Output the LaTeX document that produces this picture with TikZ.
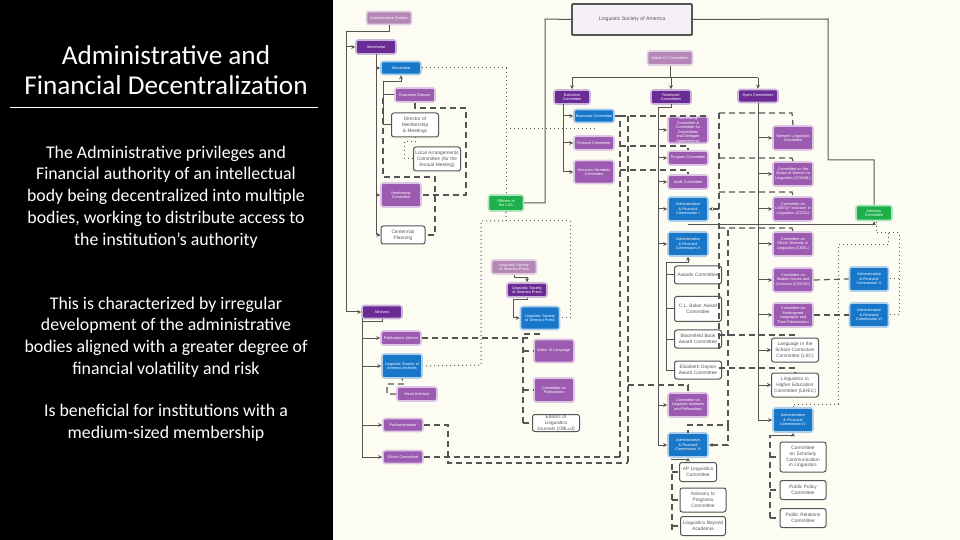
\documentclass[tikz,border=0pt]{standalone}
\usepackage{fontspec}
\setmainfont{Carlito}
\newfontfamily\nf{Liberation Sans}
\usetikzlibrary{arrows.meta}
\definecolor{bg}{HTML}{FDFCF3}
\definecolor{darkp}{HTML}{6A2B95}
\definecolor{midp}{HTML}{9C5BB0}
\definecolor{mauve}{HTML}{B587B7}
\definecolor{bluec}{HTML}{1877C9}
\definecolor{greenc}{HTML}{1DB04A}
\definecolor{ln}{HTML}{555555}
\hyphenpenalty=10000
\exhyphenpenalty=10000
\tikzset{
 base/.style={rounded corners=1.2pt,align=center,inner sep=0pt,font=\nf\fontsize{1.9}{2.3}\selectfont,line width=0.8pt},
 dp/.style={base,fill=darkp,draw=darkp!35,text=white},
 mp/.style={base,fill=midp,draw=midp!35,text=white},
 mv/.style={base,fill=mauve,draw=mauve!40,text=white},
 bl/.style={base,fill=bluec,draw=bluec!35,text=white},
 gr/.style={base,fill=greenc,draw=greenc!35,text=white},
 wh/.style={base,fill=white,draw=ln,line width=0.5pt,text=ln,font=\nf\fontsize{2.4}{2.9}\selectfont},
 sl/.style={draw=ln,line width=0.5pt},
 ar/.style={sl,-{Stealth[length=2pt,width=2pt]}},
 ds/.style={draw=ln,line width=0.6pt,dash pattern=on 3pt off 2pt},
 dt/.style={draw=ln,line width=0.5pt,dash pattern=on 0.5pt off 1.5pt},
 para/.style={text=white,align=center,font=\fontsize{8.9}{10.9}\selectfont},
}
\newcommand\bx[7]{\node[#6,minimum width=#4*0.5pt,minimum height=#5*0.5pt,text width=(#4-3)*0.5pt] (#1) at (#2,#3) {#7};}
\begin{document}
\begin{tikzpicture}[x=0.5pt,y=-0.5pt]
\fill[black] (0,0) rectangle (333,540);
\fill[bg] (333,0) rectangle (960,540);
\useasboundingbox (0,0) rectangle (960,540);
% left text
\node[text=white,align=center,font=\fontsize{13.6}{15}\selectfont] (title) at (166,70) {Administrative and\\Financial Decentralization};
\draw[white,line width=0.5pt] (10,108) -- (318,108);
\node[para] (p1) at (166,197) {The Administrative privileges and\\Financial authority of an intellectual\\body being decentralized into multiple\\bodies, working to distribute access to\\the institution's authority};
\node[para] (p2) at (166,337) {This is characterized by irregular\\development of the administrative\\bodies aligned with a greater degree of\\financial volatility and risk};
\node[para] (p3) at (166,423) {Is beneficial for institutions with a\\medium-sized membership};
% nodes
\node[base,fill=darkp!7,draw=ln,line width=0.9pt,minimum width=60pt,minimum height=15.5pt,text=ln,font=\nf\fontsize{2.6}{3}\selectfont,rounded corners=0.5pt] (root) at (632,19.5) {Linguistic Society of America};
\bx{ae}{389}{18}{45}{13}{mv}{Administrative Entities}
\bx{sec}{376}{47}{40}{14}{dp}{Secretariat}
\bx{secb}{401}{68}{40}{13}{bl}{Secretariat}
\bx{ed}{415}{95}{40}{14}{mp}{Executive Director}
\bx{dmm}{415}{125}{47}{24}{wh}{Director of Membership \& Meetings}
\bx{lac}{437}{159}{47}{24}{wh}{Local Arrangements Committee (for the Annual Meeting)}
\bx{nom}{401}{195}{40}{24}{mp}{Nominating Committee}
\bx{cent}{403}{235}{44}{18}{wh}{Centennial Planning}
\bx{off}{506}{203}{35}{16}{gr}{Officers of the LSA}
\bx{exc}{572}{97}{36}{14}{dp}{Executive Committee}
\bx{excb}{594}{116}{40}{13}{bl}{Executive Committee}
\bx{fin}{594}{143}{40}{14}{mp}{Finance Committee}
\bx{hon}{594}{172}{40}{23}{mp}{Honorary Members Committee}
\bx{art}{670}{58}{45}{14}{mv}{Article IV Committees}
\bx{res}{671}{97}{40}{14}{dp}{Restricted Committees}
\bx{open}{758}{96}{40}{13}{dp}{Open Committees}
\bx{ncc}{688}{130}{40}{25}{mp}{Nominating Committee \& Committee for Committees and Delegate Appointments}
\bx{prog}{688}{158}{40}{14}{mp}{Program Committee}
\bx{aud}{688}{182}{40}{14}{mp}{Audit Committee}
\bx{af1}{688}{209}{40}{24}{bl}{Administrative \& Financial Commission I}
\bx{af2}{688}{244}{40}{24}{bl}{Administrative \& Financial Commission II}
\bx{awd}{698}{275}{47}{18}{wh}{Awards Committee}
\bx{clb}{698}{309}{47}{25}{wh}{C.L. Baker Award Committee}
\bx{blo}{698}{339}{47}{18}{wh}{Bloomfield Book Award Committee}
\bx{eli}{698}{370}{47}{18}{wh}{Elizabeth Dayton Award Committee}
\bx{cli}{688}{405}{40}{24}{mp}{Committee on Linguistic Institutes and Fellowships}
\bx{af3}{688}{445}{40}{24}{bl}{Administrative \& Financial Commission III}
\bx{apl}{698}{472}{37}{19}{wh}{AP Linguistics Committee}
\bx{atp}{703}{500}{46}{24}{wh}{Advisory to Programs Committee}
\bx{lba}{703}{526}{45}{19}{wh}{Linguistics Beyond Academia}
\bx{net}{793}{138}{40}{24}{mp}{Network Linguistics Committee}
\bx{cosw}{793}{174}{40}{24}{mp}{Committee on the Status of Women in Linguistics (COSWL)}
\bx{cozi}{793}{209}{40}{24}{mp}{Committee on LGBTQ+ Inclusion in Linguistics (COZIL)}
\bx{cedl}{793}{244}{40}{24}{mp}{Committee on Ethnic Diversity in Linguistics (CEDL)}
\bx{cosi}{793}{280}{40}{24}{mp}{Committee on Student Issues and Concerns (COSIAC)}
\bx{cel}{793}{315}{40}{24}{mp}{Committee on Endangered Languages and Their Preservation}
\bx{lsc}{795}{350}{47}{24}{wh}{Language in the School Curriculum Committee (LSC)}
\bx{lhe}{795}{385}{47}{24}{wh}{Linguistics in Higher Education Committee (LiHEC)}
\bx{af4}{793}{420}{40}{24}{bl}{Administrative \& Financial Commission IV}
\bx{csc}{803}{457}{46}{30}{wh}{Committee on Scholarly Communication in Linguistics}
\bx{ppc}{803}{490}{46}{19}{wh}{Public Policy Committee}
\bx{prc}{803}{518}{46}{19}{wh}{Public Relations Committee}
\bx{adv}{874}{213}{36}{15}{gr}{Advisory Committee}
\bx{af5}{869}{279}{39}{24}{bl}{Administrative \& Financial Commission V}
\bx{af6}{869}{315}{39}{24}{bl}{Administrative \& Financial Commission VI}
\bx{advs}{382}{312}{40}{13}{dp}{Advisors}
\bx{pub}{401}{338}{40}{14}{mp}{Publications Advisor}
\bx{arc}{402}{366}{40}{24}{bl}{Linguistic Society of America Archives}
\bx{ha}{417}{394}{40}{14}{mp}{Head Archivist}
\bx{par}{403}{425}{40}{13}{mp}{Parliamentarian}
\bx{eth}{403}{457}{40}{13}{mp}{Ethics Committee}
\bx{pr1}{514}{267}{45}{14}{mv}{Linguistic Society of America Press}
\bx{pr2}{527}{290}{40}{14}{dp}{Linguistic Society of America Press}
\bx{pr3}{540}{318}{39}{23}{bl}{Linguistic Society of America Press}
\bx{edl}{554}{351}{40}{23}{mp}{Editor of Language}
\bx{cop}{554}{390}{40}{24}{mp}{Committee on Publications}
\bx{obl}{556}{423}{47}{17}{wh}{Editors of Linguistics Journals (OBLuJ)}
% solid connectors
\draw[sl] (ae.south) -- (389,32) -- (346,32) -- (346,312);
\draw[ar] (346,47) -- (sec.west);
\draw[ar] (346,312) -- (advs.west);
\draw[sl] (376,54) -- (376,235);
\draw[ar] (376,68) -- (secb.west);
\draw[ar] (376,195) -- (nom.west);
\draw[ar] (376,235) -- (cent.west);
\draw[ar] (383,125) -- (383,82) -- (401,82) -- (secb.south);
\draw[sl] (383,95) -- (ed.west);
\draw[sl] (383,125) -- (dmm.west);
\draw[sl] (off.east) -- (545,203) -- (545,19) -- (root.west);
\draw[sl] (root.east) -- (828,19) -- (828,160) -- (874,160) -- (adv.north);
\draw[sl] (art.south) -- (670,78);
\draw[sl] (572,78) -- (758,78);
\draw[ar] (572,78) -- (exc.north);
\draw[ar] (671,78) -- (res.north);
\draw[ar] (758,78) -- (open.north);
\draw[sl] (563,104) -- (563,172);
\draw[ar] (563,116) -- (excb.west);
\draw[ar] (563,143) -- (fin.west);
\draw[ar] (563,172) -- (hon.west);
\draw[sl] (671,104) -- (671,108) -- (658,108) -- (658,445);
\foreach \n in {ncc,prog,aud,af1,af2,cli,af3} {\draw[ar] (658,0|-\n.west) -- (\n.west);}
\draw[sl] (666,263) -- (666,370);
\draw[ar] (666,263) -- (688,263) -- (af2.south);
\foreach \n in {awd,clb,blo,eli} {\draw[sl] (666,0|-\n.west) -- (\n.west);}
\draw[sl] (758,103) -- (758,420);
\foreach \n in {net,cosw,cozi,cedl,cosi,cel,lsc,lhe,af4} {\draw[ar] (758,0|-\n.west) -- (\n.west);}
\draw[ar] (688,225) -- (874,225) -- (adv.south);
\draw[sl] (362,318) -- (362,457);
\draw[sl] (advs.south) -- (382,322) -- (362,322);
\foreach \n in {pub,arc,par,eth} {\draw[ar] (362,0|-\n.west) -- (\n.west);}
\draw[ar] (pr1.south) -- (514,278) -- (527,278) -- (pr2.north);
\draw[ar] (pr2.south) -- (527,300) -- (513,300) -- (513,318) -- (pr3.west);
% dashed
\draw[ds] (ed.south) -- (415,108) -- (466,108) -- (466,195) -- (nom.east);
\draw[ds] (383,98) -- (383,177) -- (435,177) -- (435,235) -- (cent.east);
\draw[ds] (ha.west) -- (387,394) -- (387,384) -- (404,384) -- (arc.south);
\draw[ds] (pub.east) -- (528,338) ;
\draw[ds] (523,423) -- (523,334) -- (540,334) -- (pr3.south);
\foreach \n in {edl,cop,obl} {\draw[ds] (523,0|-\n.west) -- (\n.west);}
\draw[ds] (par.east) -- (448,425) -- (448,463) -- (628,463);
\draw[ds] (eth.east) -- (620,457);
\draw[ds] (excb.east) -- (620,116) -- (620,457);
\draw[ds] (628,116) -- (628,463);
\draw[ds] (620,116) -- (707,116) -- (707,118);
\draw[ds] (620,146) -- (688,146) -- (prog.north);
\draw[ds] (620,170) -- (688,170) -- (aud.north);
\draw[ds] (628,385) -- (688,385) -- (cli.north);
\draw[ds] (719,113) -- (719,350);
\draw[ds] (719,113) -- (792,113) -- (net.north);
\draw[ds] (719,158) -- (792,158) -- (cosw.north);
\draw[ds] (719,192) -- (792,192) -- (cozi.north);
\draw[ds] (719,228) -- (792,228) -- (cedl.north);
\draw[ds] (719,335) -- (795,335) -- (lsc.north);
\draw[ds] (719,368) -- (795,368) -- (lhe.north);
\draw[ds,-{Stealth[length=2pt,width=2pt]}] (719,209) -- (af1.east);
\draw[ds] (728,230) -- (728,425) -- (688,425) -- (688,433);
\draw[ds,-{Stealth[length=2pt,width=2pt]}] (728,425) -- (728,445) -- (af3.east);
\draw[ds] (672,530) -- (672,459);
\draw[ar] (672,459) -- (688,459) -- (af3.south);
\foreach \n in {apl,atp,lba} {\draw[ds] (672,0|-\n.west) -- (\n.west);}
\draw[ds] (770,518) -- (770,435);
\draw[ar] (770,435) -- (793,435) -- (af4.south);
\foreach \n in {csc,ppc,prc} {\draw[ds] (770,0|-\n.west) -- (\n.west);}
\draw[ds] (cosi.east) -- (af5.west);
\draw[ds] (cel.east) -- (af6.west);
% dotted
\draw[dt] (secb.east) -- (506,68) -- (off.north);
\draw[dt] (506,129) -- (595,129);
\draw[dt] (off.south) -- (506,221) -- (481,221) -- (481,365) -- (arc.east);
\draw[dt] (506,221) -- (570,221) -- (570,318) -- (pr3.east);
\draw[dt] (dmm.south) -- (415,142) -- (404,142) -- (404,159) -- (lac.west);
\draw[dt] (876,222) -- (876,233) -- (899,233) -- (899,315) -- (af6.east);
\draw[dt] (899,279) -- (af5.east);
\draw[dt] (888,233) -- (888,245) -- (838,245) -- (838,404) -- (793,404) -- (af4.north);
\end{tikzpicture}
\end{document}
